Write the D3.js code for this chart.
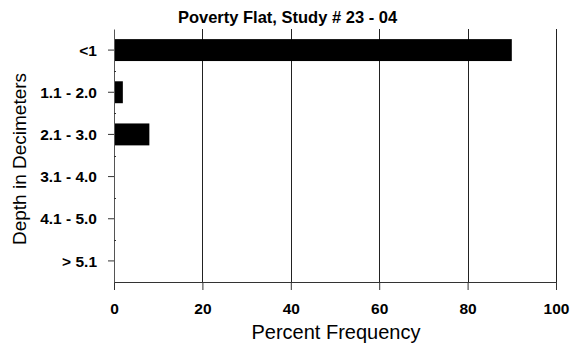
<!DOCTYPE html>
<html>
<head>
<meta charset="utf-8">
<script src="https://cdn.jsdelivr.net/npm/d3@7"></script>
<style>
  html, body { margin: 0; padding: 0; background: #fff; }
  svg { display: block; }
</style>
</head>
<body>
<svg id="chart" width="571" height="346"></svg>
<script>
const categories = ["<1", "1.1 - 2.0", "2.1 - 3.0", "3.1 - 4.0", "4.1 - 5.0", "> 5.1"];
const values = [90, 2, 8, 0, 0, 0];
const xTicks = [0, 20, 40, 60, 80, 100];
const title = "Poverty Flat, Study # 23 - 04";
const xLabel = "Percent Frequency";
const yLabel = "Depth in Decimeters";

const W = 571, H = 346;
const margin = {top: 29, right: 15, bottom: 64, left: 114};
const FONT = "Liberation Sans, Arial, sans-serif";
const svg = d3.select("#chart");
const x = d3.scaleLinear().domain([0, 100]).range([margin.left, W - margin.right]);
const y = d3.scaleBand().domain(categories).range([margin.top, H - margin.bottom]).paddingInner(0.48).paddingOuter(0.24);
const yb = d3.scaleBand().domain(categories).range([margin.top, H - margin.bottom]);

// gridlines
svg.append("g").selectAll("line").data(xTicks.filter(d => d > 0)).join("line")
  .attr("x1", d => Math.round(x(d)) + 0.5).attr("x2", d => Math.round(x(d)) + 0.5)
  .attr("y1", margin.top).attr("y2", H - margin.bottom)
  .attr("stroke", "#222").attr("stroke-width", 1);

// bars
svg.append("g").selectAll("rect").data(values).join("rect")
  .attr("x", x(0))
  .attr("y", (d, i) => y(categories[i]))
  .attr("width", d => x(d) - x(0))
  .attr("height", y.bandwidth())
  .attr("fill", "#000");

// x axis
const xAxis = d3.axisBottom(x).tickValues(xTicks).tickSize(8).tickSizeOuter(0).tickFormat(d3.format("d"));
const gx = svg.append("g").attr("transform", `translate(0,${H - margin.bottom})`).call(xAxis);
gx.select(".domain").attr("stroke", "#333");
gx.selectAll(".tick line").attr("stroke", "#333");
gx.selectAll("text").attr("font-family", FONT)
  .attr("font-size", 15.5).attr("font-weight", "bold").attr("fill", "#000").attr("dy", null).attr("y", 32);

// y axis
const yAxis = d3.axisLeft(yb).tickSize(6).tickSizeOuter(0).tickPadding(11);
const gy = svg.append("g").attr("transform", `translate(${margin.left},0)`).call(yAxis);
gy.select(".domain").attr("stroke", "#555");
gy.selectAll(".tick line").attr("stroke", "#333");
gy.selectAll("text").attr("font-family", FONT)
  .attr("font-size", 15.5).attr("font-weight", "bold").attr("fill", "#000").attr("dy", "0.36em");

// minor inner ticks at category boundaries
svg.append("g").selectAll("line").data(categories.slice(1)).join("line")
  .attr("x1", margin.left).attr("x2", margin.left + 2)
  .attr("y1", d => Math.round(yb(d)) + 0.5).attr("y2", d => Math.round(yb(d)) + 0.5)
  .attr("stroke", "#333");

// title
svg.append("text").attr("x", 287.5).attr("y", 23).attr("text-anchor", "middle")
  .attr("font-family", FONT).attr("font-size", 16.5).attr("font-weight", "bold")
  .text(title);

// x label
svg.append("text").attr("x", 336).attr("y", 339).attr("text-anchor", "middle")
  .attr("font-family", FONT).attr("font-size", 20)
  .text(xLabel);

// y label
svg.append("text").attr("transform", `translate(26,159) rotate(-90)`)
  .attr("text-anchor", "middle")
  .attr("font-family", FONT).attr("font-size", 19)
  .text(yLabel);
</script>
</body>
</html>
